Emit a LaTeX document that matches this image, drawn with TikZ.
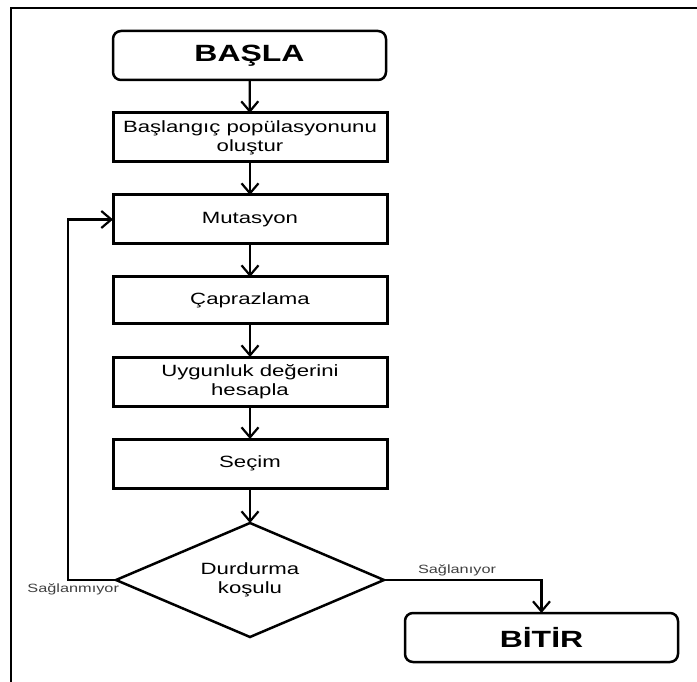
\documentclass[tikz,border=0pt]{standalone}
\usepackage{fontspec}
\setmainfont{Liberation Sans}[FakeStretch=1.36]
\usetikzlibrary{arrows.meta,shapes.geometric}
\begin{document}
\begin{tikzpicture}[x=1pt,y=-1pt,
  every node/.style={inner sep=0pt, outer sep=0pt},
  terminal/.style={rectangle, rounded corners=8pt, draw, line width=2.5pt,
    minimum width=273pt, minimum height=49pt,
    font=\bfseries\fontsize{23.5}{28}\selectfont},
  procbox/.style={rectangle, draw, line width=3pt, minimum width=274pt,
    minimum height=49pt, align=center,
    font=\fontsize{16.3}{19}\selectfont},
  decision/.style={diamond, draw, line width=2.5pt, aspect=2.35,
    minimum width=268pt, minimum height=114pt, align=center,
    font=\fontsize{16.3}{19}\selectfont},
  lbl/.style={text=black!75, font=\fontsize{12}{14}\selectfont},
  arr/.style={line width=2.2pt, -{Straight Barb[length=10pt,width=17pt]}}
]
\useasboundingbox (0,0) rectangle (697,682);
% outer frame (top and left edges)
\draw[line width=2pt] (11,682) -- (11,8.5) -- (697,8.5);

% flow nodes
\node[terminal] (start) at (249.5,55.5) {BAŞLA};
\node[procbox] (init) at (250,137.5) {Başlangıç popülasyonunu\\oluştur};
\node[procbox] (mut) at (250,219.5) {Mutasyon};
\node[procbox, minimum height=46pt] (cross) at (250,300) {Çaprazlama};
\node[procbox] (fit) at (250,381.5) {Uygunluk değerini\\hesapla};
\node[procbox] (sel) at (250,463.5) {Seçim};
\node[decision] (stop) at (250,580) {Durdurma\\koşulu};
\node[terminal] (finish) at (541.5,637.5) {BİTİR};

% branch labels
\node[lbl, anchor=south west] (yes) at (418,576) {Sağlanıyor};
\node[lbl, anchor=north east] (no) at (119,584) {Sağlanmıyor};

% connectors
\draw[arr] (start) -- (init);
\draw[arr] (init) -- (mut);
\draw[arr] (mut) -- (cross);
\draw[arr] (cross) -- (fit);
\draw[arr] (fit) -- (sel);
\draw[arr] (sel) -- (stop.north);
\coordinate (loop) at (68,580);
\draw[arr] (stop.west) -- (loop) |- (mut.west);
\draw[arr] (stop.east) -| (finish.north);
\end{tikzpicture}
\end{document}
